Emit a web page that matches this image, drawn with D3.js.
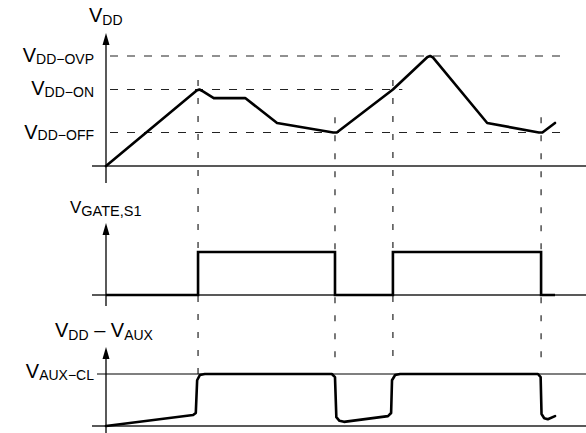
<!DOCTYPE html>
<html>
<head>
<meta charset="utf-8">
<script src="https://cdn.jsdelivr.net/npm/d3@7"></script>
<style>
  html, body { margin: 0; padding: 0; background: #fff; }
  svg { display: block; }
  text { font-family: "Liberation Sans", Arial, Helvetica, sans-serif; fill: #000; }
</style>
</head>
<body>
<svg id="chart" width="586" height="433"></svg>
<script>
// ---------------- data ----------------
// switching instants (arbitrary time units)
const eventTimes = [2.05, 5.10, 6.39, 9.69];
const eventGuideTop = [18, 10.2, 18, 10.2];      // in VDD units, where the guide starts
const eventGuideBottom = [9.8, 11.5, 11.2, 11.5]; // in VAUX units, where the guide ends

// VDD threshold levels
const vddLevelNames = ["DD\u2212OFF", "DD\u2212ON", "DD\u2212OVP"];
const vddLevelValues = [7, 16, 23];
const vddLevelEnds = [10.3, 6.6, 10.3];   // time where each dashed level line ends

// VDD waveform
const vddT = [0, 2.02, 2.08, 2.16, 2.40, 3.10, 3.81, 5.06, 5.14, 6.39, 7.16, 7.22, 7.28, 8.49, 9.64, 9.72, 10.0];
const vddV = [0, 15.8, 16.0, 15.6, 14.2, 14.2, 9.0, 7.0, 7.0, 16.0, 22.8, 23.0, 22.7, 9.0, 7.0, 7.0, 9.0];

// Gate waveform (0 = low, 1 = high), step after
const gateT = [0, 2.05, 5.10, 6.39, 9.69, 10.0];
const gateV = [0, 1, 0, 1, 0, 0];

// VDD - VAUX waveform
const auxClamp = 10;
const auxT = [0, 1.94, 2.00, 2.03, 2.09, 2.20, 5.03, 5.10, 5.13, 5.20, 5.30, 6.28, 6.35, 6.37, 6.44, 6.55, 9.62, 9.68, 9.70, 9.76, 9.84, 10.0];
const auxV = [0, 2.1, 2.5, 8.8, 9.8, 10, 10, 9.4, 1.7, 1.0, 0.8, 1.9, 2.5, 8.8, 9.8, 10, 10, 9.4, 2.3, 1.5, 1.3, 1.9];

// ---------------- scales ----------------
const svg = d3.select("#chart");
const x = d3.scaleLinear().domain([0, 10]).range([106, 555]);
const yVdd = d3.scaleLinear().domain([0, 23]).range([166, 56]);
const yGate = d3.scaleLinear().domain([0, 1]).range([295, 252]);
const yAux = d3.scaleLinear().domain([0, 10]).range([426, 374]);

const xAxisLeft = 92, xRight = 586;

// ---------------- helpers ----------------
function label(g, xx, yy, sub, mainSize, subSize, anchor, subDy) {
  const t = g.append("text").attr("x", xx).attr("y", yy)
    .attr("text-anchor", anchor || "start");
  t.append("tspan").attr("font-size", mainSize).text("V");
  t.append("tspan").attr("font-size", subSize).attr("dy", subDy).text(sub);
  return t;
}
function labelComposite(g, xx, yy) {
  const t = g.append("text").attr("x", xx).attr("y", yy);
  t.append("tspan").attr("font-size", 20).text("V");
  t.append("tspan").attr("font-size", 14).attr("dy", 3).text("DD");
  t.append("tspan").attr("font-size", 20).attr("dy", -3).text(" \u2013 V");
  t.append("tspan").attr("font-size", 14).attr("dy", 3).text("AUX");
}
function yAxisArrow(g, x0, yTop, yBottom) {
  g.append("line").attr("x1", x0).attr("x2", x0).attr("y1", yBottom).attr("y2", yTop + 8)
    .attr("stroke", "#000").attr("stroke-width", 1.3);
  g.append("path")
    .attr("d", `M${x0},${yTop} L${x0 - 3.5},${yTop + 12} L${x0 + 3.5},${yTop + 12} Z`)
    .attr("fill", "#000");
}
function hline(g, yy, x1, x2, w, color) {
  g.append("line").attr("x1", x1).attr("x2", x2).attr("y1", yy).attr("y2", yy)
    .attr("stroke", color || "#222").attr("stroke-width", w || 1.3);
}

const guides = svg.append("g");
const axes = svg.append("g");
const marks = svg.append("g");

// ---------------- guides ----------------
vddLevelValues.forEach((v, i) => {
  guides.append("line")
    .attr("x1", x(0) + 4).attr("x2", x(vddLevelEnds[i]))
    .attr("y1", yVdd(v)).attr("y2", yVdd(v))
    .attr("stroke", "#222").attr("stroke-width", 1.2).attr("stroke-dasharray", "8,9");
});
eventTimes.forEach((t, i) => {
  guides.append("line")
    .attr("x1", x(t)).attr("x2", x(t))
    .attr("y1", yVdd(eventGuideTop[i])).attr("y2", yAux(eventGuideBottom[i]))
    .attr("stroke", "#222").attr("stroke-width", 1.2).attr("stroke-dasharray", "6,12");
});

// ---------------- axes ----------------
hline(axes, yVdd(0), xAxisLeft, xRight);
hline(axes, yGate(0), xAxisLeft, xRight);
hline(axes, yAux(0), xAxisLeft, xRight);
hline(axes, yAux(auxClamp), 97, xRight, 1.1, "#000");

yAxisArrow(axes, x(0), 33, 183);
yAxisArrow(axes, x(0), 223, 306);
yAxisArrow(axes, x(0), 347, 433);

// ---------------- labels ----------------
label(axes, 89, 22, "DD", 20, 14, "start", 3);
vddLevelValues.forEach((v, i) => {
  label(axes, 94, yVdd(v) + 6, vddLevelNames[i], 20, 14, "end", 1.5);
});
label(axes, 70, 213, "GATE,S1", 17, 14.5, "start", 3);
labelComposite(axes, 55, 337);
label(axes, 94, yAux(auxClamp) + 3.5, "AUX\u2212CL", 20, 14, "end", 2);

// ---------------- waveforms ----------------
marks.append("path")
  .attr("d", d3.line().x(d => x(d[0])).y(d => yVdd(d[1]))(vddT.map((t, i) => [t, vddV[i]])))
  .attr("fill", "none").attr("stroke", "#000").attr("stroke-width", 2.6)
  .attr("stroke-linejoin", "round").attr("stroke-linecap", "round");

marks.append("path")
  .attr("d", d3.line().curve(d3.curveStepAfter).x(d => x(d[0])).y(d => yGate(d[1]))(gateT.map((t, i) => [t, gateV[i]])))
  .attr("fill", "none").attr("stroke", "#000").attr("stroke-width", 2.6)
  .attr("stroke-linejoin", "miter");

marks.append("path")
  .attr("d", d3.line().x(d => x(d[0])).y(d => yAux(d[1]))(auxT.map((t, i) => [t, auxV[i]])))
  .attr("fill", "none").attr("stroke", "#000").attr("stroke-width", 2.6)
  .attr("stroke-linejoin", "round").attr("stroke-linecap", "round");
</script>
</body>
</html>
